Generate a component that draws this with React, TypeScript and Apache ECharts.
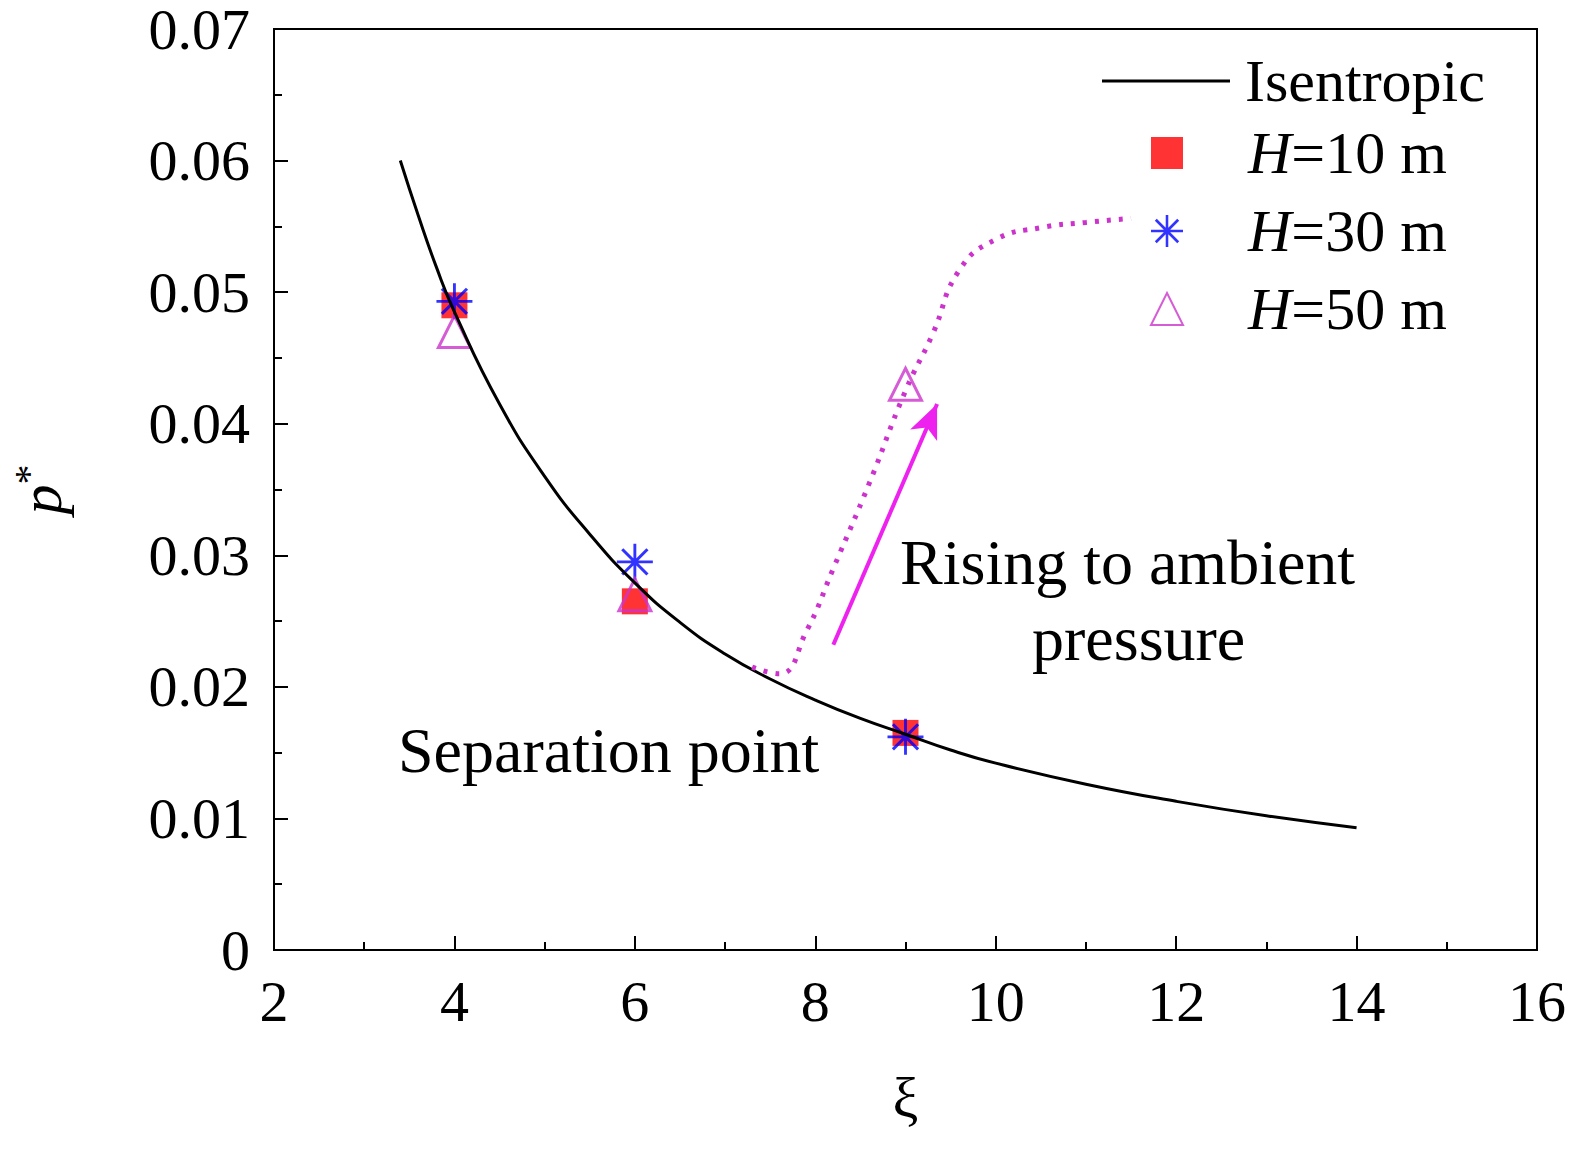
import { useEffect, useRef } from 'react';
import * as echarts from 'echarts';

const isentropicX = [3.4, 3.6, 3.8, 4, 4.5, 5, 5.5, 6, 6.5, 7, 7.5, 8, 8.5, 9, 9.5, 10, 11, 12, 13, 14];
const isentropicY = [0.06, 0.0558, 0.0519, 0.0485, 0.0415, 0.036, 0.0316, 0.0279, 0.0249, 0.0225, 0.0206, 0.019, 0.0176, 0.0164, 0.0152, 0.0142, 0.0126, 0.0113, 0.0102, 0.0093];

const h10 = [[4, 0.049], [6, 0.0265], [9, 0.0165]];
const h30 = [[4, 0.0493], [6, 0.0295], [9, 0.0162]];
const h50 = [[4, 0.047], [6, 0.027], [9, 0.043]];

const risingX = [7.3, 7.6, 7.9, 8.2, 8.6, 9, 9.3, 9.6, 10, 10.5, 11, 11.5];
const risingY = [0.0215, 0.021, 0.0242, 0.029, 0.0355, 0.0425, 0.0468, 0.0517, 0.054, 0.0549, 0.0553, 0.0556];

const arrowFrom = [8.2, 0.0232];
const arrowTo = [9.35, 0.0415];

const FONT = 'Liberation Serif';
const STAR =
  'path://M0 46 L100 46 L100 54 L0 54 Z M46 0 L54 0 L54 100 L46 100 Z M18 12 L88 82 L82 88 L12 18 Z M82 12 L88 18 L18 88 L12 82 Z';

export default function App() {
  const ref = useRef<HTMLDivElement>(null);

  useEffect(() => {
    if (!ref.current) return;
    const chart = echarts.init(ref.current, undefined, { renderer: 'svg' });
    const legendText = {
      fontFamily: FONT, fontSize: 60, color: '#000',
      rich: { i: { fontFamily: FONT, fontSize: 60, fontStyle: 'italic', color: '#000' } },
    };

    chart.setOption({
      animation: false,
      backgroundColor: '#fff',
      textStyle: { fontFamily: FONT },
      grid: { left: 262, right: 54, top: 23, bottom: 199, show: true, borderColor: '#000', borderWidth: 2 },
      xAxis: {
        type: 'value', min: 2, max: 16, interval: 2,
        name: 'ξ', nameLocation: 'middle', nameGap: 118,
        nameTextStyle: { fontFamily: FONT, fontSize: 58, color: '#000' },
        axisLine: { lineStyle: { color: '#000', width: 2 } },
        axisTick: { inside: true, length: 14, lineStyle: { color: '#000', width: 2 } },
        minorTick: { show: true, splitNumber: 2, length: 8, lineStyle: { color: '#000', width: 2 } },
        axisLabel: { fontSize: 58, color: '#000', margin: 22, fontFamily: FONT },
        splitLine: { show: false },
      },
      yAxis: {
        type: 'value', min: 0, max: 0.07, interval: 0.01,
        name: '{p|p}{s|*}', nameLocation: 'middle', nameGap: 200, nameRotate: 90,
        nameTextStyle: {
          rich: {
            p: { fontFamily: FONT, fontSize: 60, fontStyle: 'italic', color: '#000' },
            s: { fontFamily: FONT, fontSize: 40, color: '#000', verticalAlign: 'top', padding: [0, 0, 26, 0] },
          },
        },
        axisLine: { lineStyle: { color: '#000', width: 2 } },
        axisTick: { inside: true, length: 14, lineStyle: { color: '#000', width: 2 } },
        minorTick: { show: true, splitNumber: 2, length: 8, lineStyle: { color: '#000', width: 2 } },
        axisLabel: {
          fontSize: 58, color: '#000', margin: 24, fontFamily: FONT,
          formatter: (v: number) => (v === 0 ? '0' : v.toFixed(2)),
        },
        splitLine: { show: false },
      },
      legend: [
        {
          orient: 'vertical', left: 1097, top: 46, itemWidth: 128, itemHeight: 3, icon: 'rect',
          data: ['Isentropic'],
          textStyle: { ...legendText, padding: [0, 0, 0, 10] },
        },
        {
          orient: 'vertical', left: 1145, top: 118, itemWidth: 32, itemHeight: 32, itemGap: 18,
          data: ['H=10 m', 'H=30 m', 'H=50 m'],
          formatter: (name: string) => `{i|H}=${name.slice(2)}`,
          textStyle: { ...legendText, padding: [0, 0, 0, 60] },
        },
      ],
      series: [
        {
          name: 'Isentropic', type: 'line', smooth: true, symbol: 'none',
          lineStyle: { color: '#000', width: 3 }, itemStyle: { color: '#000' },
          data: isentropicX.map((x, i) => [x, isentropicY[i]]),
        },
        {
          name: 'rising', type: 'line', smooth: true, symbol: 'none',
          lineStyle: { color: '#cc33cc', width: 5, type: [4, 8] },
          data: risingX.map((x, i) => [x, risingY[i]]),
          markLine: {
            silent: true, symbol: ['none', 'arrow'], symbolSize: [22, 34],
            label: { show: false },
            lineStyle: { color: '#ee22ee', width: 4, type: 'solid' },
            data: [[{ coord: arrowFrom }, { coord: arrowTo }]],
          },
        },
        {
          name: 'H=10 m', type: 'scatter', symbol: 'rect', symbolSize: 26,
          itemStyle: { color: '#ff0000' }, data: h10,
        },
        {
          name: 'H=30 m', type: 'scatter', symbol: STAR, symbolSize: 36,
          itemStyle: { color: '#0000ff' }, data: h30,
        },
        {
          name: 'H=50 m', type: 'scatter', symbol: 'triangle', symbolSize: 32,
          itemStyle: { color: 'rgba(0,0,0,0)', borderColor: '#cc33cc', borderWidth: 3 }, data: h50,
        },
      ],
      graphic: [
        { type: 'text', left: 900, top: 530, style: { text: 'Rising to ambient', fontFamily: FONT, fontSize: 64, fill: '#000' } },
        { type: 'text', left: 1032, top: 606, style: { text: 'pressure', fontFamily: FONT, fontSize: 64, fill: '#000' } },
        { type: 'text', left: 398, top: 718, style: { text: 'Separation point', fontFamily: FONT, fontSize: 64, fill: '#000' } },
      ],
    });

    return () => chart.dispose();
  }, []);

  return <div ref={ref} style={{ position: 'fixed', left: 0, top: 0, width: 1591, height: 1149 }} />;
}
